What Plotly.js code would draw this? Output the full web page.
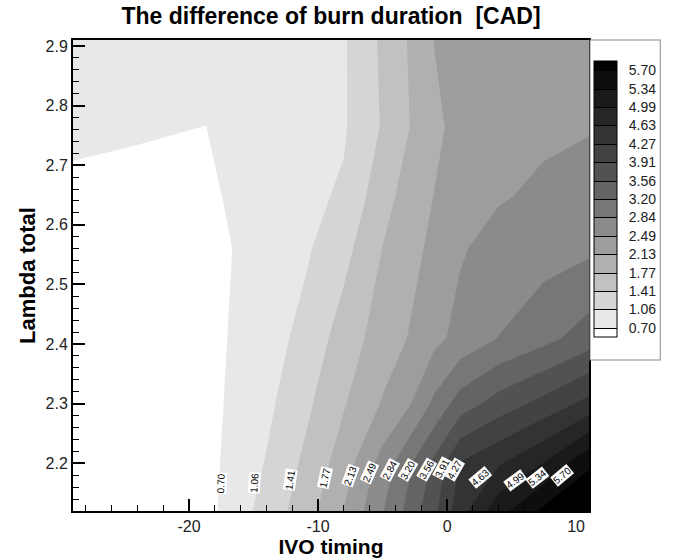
<!DOCTYPE html>
<html>
<head>
<meta charset="utf-8">
<script src="https://cdn.plot.ly/plotly-3.0.1.min.js"></script>
<style>
  html, body { margin: 0; padding: 0; background: #ffffff; }
  #chart { width: 674px; height: 559px; }
</style>
</head>
<body>
<div id="chart"></div>
<script>
// ---- data ----
const ivoTiming = [-29, -24, -18.7, -16.6, -14, -11, -8, -5, -3, -1, 1, 4, 7.5, 11];
const lambdaTotal = [2.12, 2.20, 2.30, 2.41, 2.56, 2.65, 2.765, 2.91];
const burnDiff = [
  [0.35, 0.45, 0.58, 0.86, 1.20, 1.60, 2.14, 2.82, 3.30, 3.83, 4.48, 5.21, 5.78, 6.00],
  [0.40, 0.45, 0.584, 0.804, 1.081, 1.483, 1.946, 2.628, 3.123, 3.645, 4.29, 4.59, 5.00, 5.65],
  [0.45, 0.50, 0.585, 0.76, 0.976, 1.331, 1.743, 2.157, 2.435, 2.92, 3.366, 3.72, 4.03, 4.39],
  [0.50, 0.55, 0.587, 0.729, 0.906, 1.162, 1.578, 1.936, 2.139, 2.387, 2.59, 2.85, 3.086, 3.37],
  [0.60, 0.60, 0.63, 0.702, 0.843, 1.005, 1.30, 1.778, 2.00, 2.218, 2.45, 2.62, 2.70, 2.78],
  [0.68, 0.646, 0.66, 0.728, 0.846, 0.973, 1.10, 1.637, 1.903, 2.135, 2.249, 2.45, 2.55, 2.64],
  [0.72, 0.72, 0.699, 0.764, 0.85, 0.95, 1.02, 1.445, 1.755, 2.02, 2.28, 2.36, 2.42, 2.46],
  [0.85, 0.87, 0.90, 0.92, 0.94, 0.97, 1.02, 1.48, 1.79, 2.14, 2.22, 2.30, 2.38, 2.43]
];
const levelStart = 0.70;
const levelEnd = 5.70;
const levelCount = 15;
const levelLabels = ['0.70','1.06','1.41','1.77','2.13','2.49','2.84','3.20','3.56','3.91','4.27','4.63','4.99','5.34','5.70'];
// contour label positions (where each level line crosses near the bottom)
const labelX = [-17.5, -14.9, -12.2, -9.5, -7.5, -6.0, -4.4, -3.0, -1.56, -0.4, 0.6, 2.55, 5.26, 7.0, 8.9];
const labelY = [2.167, 2.167, 2.172, 2.175, 2.18, 2.184, 2.189, 2.189, 2.189, 2.192, 2.189, 2.177, 2.172, 2.177, 2.18];
// axis tick labels
const xTickVals = [-20, -10, 0, 10];
const xTickText = ['-20', '-10', '0', '10'];
const yTickVals = [2.2, 2.3, 2.4, 2.5, 2.6, 2.7, 2.8, 2.9];
const yTickText = ['2.2', '2.3', '2.4', '2.5', '2.6', '2.7', '2.8', '2.9'];

// ---- styles ----
const labelAngle = [-88, -86, -82, -78, -70, -66, -62, -60, -60, -62, -60, -40, -36, -38, -40];
const bandColors = ['#ffffff', '#e8e8e8', '#d5d5d5', '#c1c1c1', '#b0b0b0', '#9d9d9d', '#8b8b8b',
  '#777777', '#646464', '#525252', '#424242', '#333333', '#262626', '#1a1a1a', '#0e0e0e', '#000000'];

const levelStep = (levelEnd - levelStart) / (levelCount - 1);
const levels = levelLabels.map((t, i) => levelStart + i * levelStep);
const colorscale = bandColors.map((c, i) => [i / (bandColors.length - 1), c]);
const FONT = 'Arial, "Liberation Sans", Helvetica, sans-serif';
const contourSpec = { start: levelStart, end: levelEnd, size: levelStep, coloring: 'fill', showlabels: false };

const fillTrace = {
  type: 'contour', x: ivoTiming, y: lambdaTotal, z: burnDiff,
  contours: Object.assign({ showlines: false }, contourSpec),
  line: { width: 0, smoothing: 0 },
  colorscale: colorscale, showscale: false, hoverinfo: 'skip'
};
// same field, drawn off-screen, only to supply the legend with separator lines
const legendTrace = {
  type: 'contour', x: ivoTiming, y: lambdaTotal, z: burnDiff,
  xaxis: 'x2', yaxis: 'y2',
  contours: Object.assign({ showlines: true }, contourSpec),
  line: { width: 1, color: '#000000', smoothing: 0 },
  colorscale: colorscale, showscale: true, hoverinfo: 'skip',
  colorbar: {
    x: 1.004, xanchor: 'left', y: 1, yanchor: 'top',
    len: 318, lenmode: 'pixels', thickness: 23, thicknessmode: 'pixels',
    xpad: 3, ypad: 21,
    bgcolor: '#ffffff', bordercolor: '#8a8a8a', borderwidth: 1,
    outlinecolor: '#000000', outlinewidth: 1,
    tickmode: 'array', tickvals: levels, ticktext: levelLabels,
    ticks: 'outside', ticklen: 9, tickcolor: 'rgba(0,0,0,0)',
    tickfont: { family: FONT, size: 14, color: '#222222' }
  }
};

const annotations = levelLabels.map((t, i) => ({
  x: labelX[i], y: labelY[i], xref: 'x', yref: 'y', text: t, showarrow: false,
  textangle: labelAngle[i], bgcolor: '#ffffff', borderpad: 0,
  font: { family: FONT, size: 10, color: '#000000' }
}));

const layout = {
  width: 674, height: 559,
  margin: { l: 73, r: 85, t: 40, b: 48, pad: 0 },
  paper_bgcolor: '#ffffff', plot_bgcolor: '#ffffff',
  showlegend: false,
  title: {
    text: 'The difference of burn duration \u00a0[CAD]',
    font: { family: FONT, size: 23, color: '#000000', weight: 'bold' },
    x: 0.5, xref: 'paper', xanchor: 'center', y: 0.971, yref: 'container', yanchor: 'middle'
  },
  xaxis: {
    range: [-29, 11], tickmode: 'array', tickvals: xTickVals, ticktext: xTickText,
    ticks: 'inside', ticklen: 12, tickwidth: 2, tickcolor: '#000000',
    minor: { ticks: 'inside', dtick: 2, tick0: 0, ticklen: 6, tickwidth: 1, tickcolor: '#000000', showgrid: false },
    showline: true, linewidth: 2, linecolor: '#000000', mirror: true,
    showgrid: false, zeroline: false,
    tickfont: { family: FONT, size: 16, color: '#222222' },
    title: { text: 'IVO timing', font: { family: FONT, size: 21, color: '#000000', weight: 'bold' }, standoff: 3 }
  },
  yaxis: {
    range: [2.12, 2.91], tickmode: 'array', tickvals: yTickVals, ticktext: yTickText,
    ticks: 'inside', ticklen: 12, tickwidth: 2, tickcolor: '#000000',
    minor: { ticks: 'inside', dtick: 0.02, tick0: 2.2, ticklen: 6, tickwidth: 1, tickcolor: '#000000', showgrid: false },
    showline: true, linewidth: 2, linecolor: '#000000', mirror: true,
    showgrid: false, zeroline: false,
    tickfont: { family: FONT, size: 16, color: '#222222' },
    title: { text: 'Lambda total', font: { family: FONT, size: 22, color: '#000000', weight: 'bold' }, standoff: 4 }
  },
  xaxis2: { overlaying: 'x', range: [1000, 1001], visible: false },
  yaxis2: { overlaying: 'y', range: [1000, 1001], visible: false },
  annotations: annotations
};

Plotly.newPlot('chart', [fillTrace, legendTrace], layout, { displayModeBar: false, staticPlot: true });
</script>
</body>
</html>
